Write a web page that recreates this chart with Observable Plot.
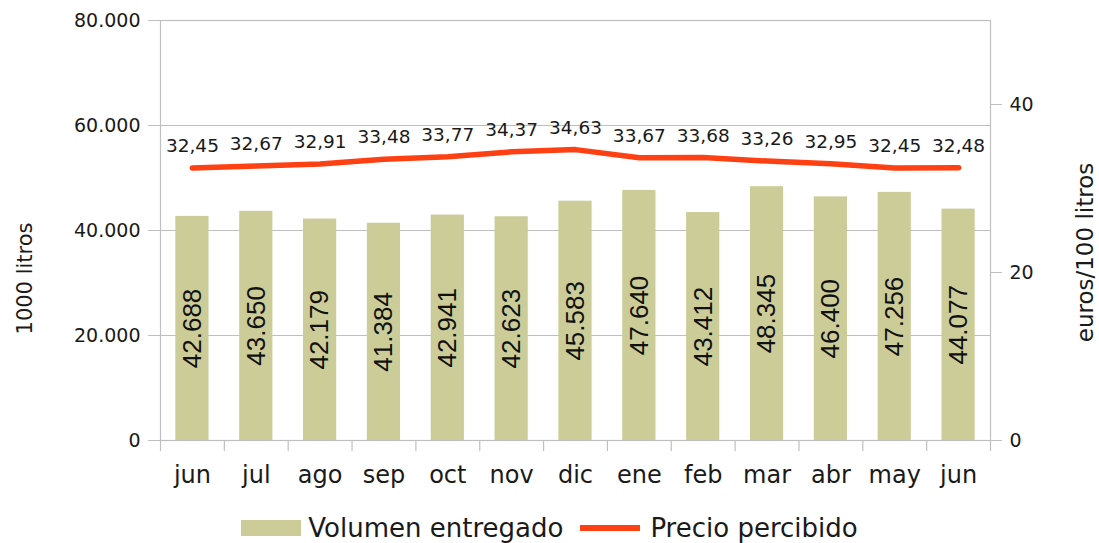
<!DOCTYPE html>
<html>
<head>
<meta charset="utf-8">
<script src="https://cdn.jsdelivr.net/npm/d3@7"></script>
<script src="https://cdn.jsdelivr.net/npm/@observablehq/plot@0.6"></script>
<style>
  html, body { margin: 0; padding: 0; background: #fff; }
  #wrap { position: relative; width: 1099px; height: 543px; overflow: hidden; }
  #legend { position: absolute; left: 0; top: 512px; width: 1099px; height: 32px;
    display: flex; justify-content: center; align-items: center;
    font-family: "DejaVu Sans", sans-serif; font-size: 26px; color: #1a1a1a; }
  .item { display: flex; align-items: center; }
  .sw-bar { width: 60px; height: 16px; background: #cccc99; margin-right: 7px; }
  .sw-line { width: 60px; height: 6px; background: #ff4013; margin-right: 10px; margin-left: 17px; }
</style>
</head>
<body>
<div id="wrap"><div id="chart"></div>
<div id="legend">
  <div class="item"><div class="sw-bar"></div><span>Volumen entregado</span></div>
  <div class="item"><div class="sw-line"></div><span>Precio percibido</span></div>
</div></div>
<script>
const months = ["jun","jul","ago","sep","oct","nov","dic","ene","feb","mar","abr","may","jun"];
const volumen = [42688,43650,42179,41384,42941,42623,45583,47640,43412,48345,46400,47256,44077];
const precio = [32.45,32.67,32.91,33.48,33.77,34.37,34.63,33.67,33.68,33.26,32.95,32.45,32.48];
const leftTicks = [0,20000,40000,60000,80000];
const rightTicks = [0,20,40];
const rightMax = 50, leftMax = 80000;
const k = leftMax / rightMax;

const data = months.map((m, i) => ({i, m, vol: volumen[i], price: precio[i]}));
const fmtThousands = d => d3.format(",")(d).replace(/,/g, ".");
const fmtPrice = d => d.toFixed(2).replace(".", ",");

const W = 1099, mL = 160, mR = 109;
const step = (W - mL - mR) / months.length;
const grid = "#bfbfbf";
const font = "DejaVu Sans, sans-serif";

const chart = Plot.plot({
  width: W, height: 500,
  marginLeft: mL, marginRight: mR, marginTop: 20, marginBottom: 60,
  style: {fontFamily: font, color: "#1a1a1a", background: "#fff"},
  x: {type: "band", domain: d3.range(months.length), paddingInner: 0.48, paddingOuter: 0.24, round: false},
  y: {domain: [0, leftMax]},
  marks: [
    Plot.ruleY([20000, 40000, 60000, 80000], {stroke: grid, strokeWidth: 1.2}),
    Plot.frame({stroke: grid, strokeWidth: 1.2}),
    Plot.barY(data, {x: "i", y: "vol", fill: "#cccc99"}),
    Plot.ruleX(data, {x: "i", y1: 0, y2: -2100, dx: -step / 2, stroke: grid, strokeWidth: 1.2}),
    Plot.ruleX([data[data.length - 1]], {x: "i", y1: 0, y2: -2100, dx: step / 2, stroke: grid, strokeWidth: 1.2}),
    Plot.axisY({anchor: "left", ticks: leftTicks, tickFormat: fmtThousands, tickSize: 12, tickPadding: 8,
      stroke: grid, fill: "#1a1a1a", fontSize: 19, label: null}),
    Plot.axisY({anchor: "right", ticks: rightTicks.map(d => d * k), tickFormat: d => String(d / k),
      tickSize: 11, tickPadding: 8, stroke: grid, fill: "#1a1a1a", fontSize: 19, label: null}),
    Plot.axisX({tickSize: 0, tickPadding: 25, tickFormat: i => months[i], fontSize: 24, fill: "#1a1a1a", label: null}),
    Plot.text(data, {x: "i", y: d => d.vol / 2, text: d => fmtThousands(d.vol), rotate: -90,
      fontSize: 26, fontFamily: "Liberation Sans, Arial, sans-serif", fill: "#111"}),
    Plot.line(data, {x: "i", y: d => d.price * k, stroke: "#ff4013", strokeWidth: 5.5}),
    Plot.text(data, {x: "i", y: d => d.price * k, text: d => fmtPrice(d.price), dy: -22,
      fontSize: 18.5, fill: "#1a1a1a"}),
    Plot.text(["1000 litros"], {frameAnchor: "left", textAnchor: "middle", rotate: -90, dx: -135, dy: 48,
      fontSize: 21, fill: "#1a1a1a"}),
    Plot.text(["euros/100 litros"], {frameAnchor: "right", textAnchor: "middle", rotate: -90, dx: 95, dy: 22,
      fontSize: 23, fill: "#1a1a1a"})
  ]
});
document.getElementById("chart").appendChild(chart);
</script>
</body>
</html>
